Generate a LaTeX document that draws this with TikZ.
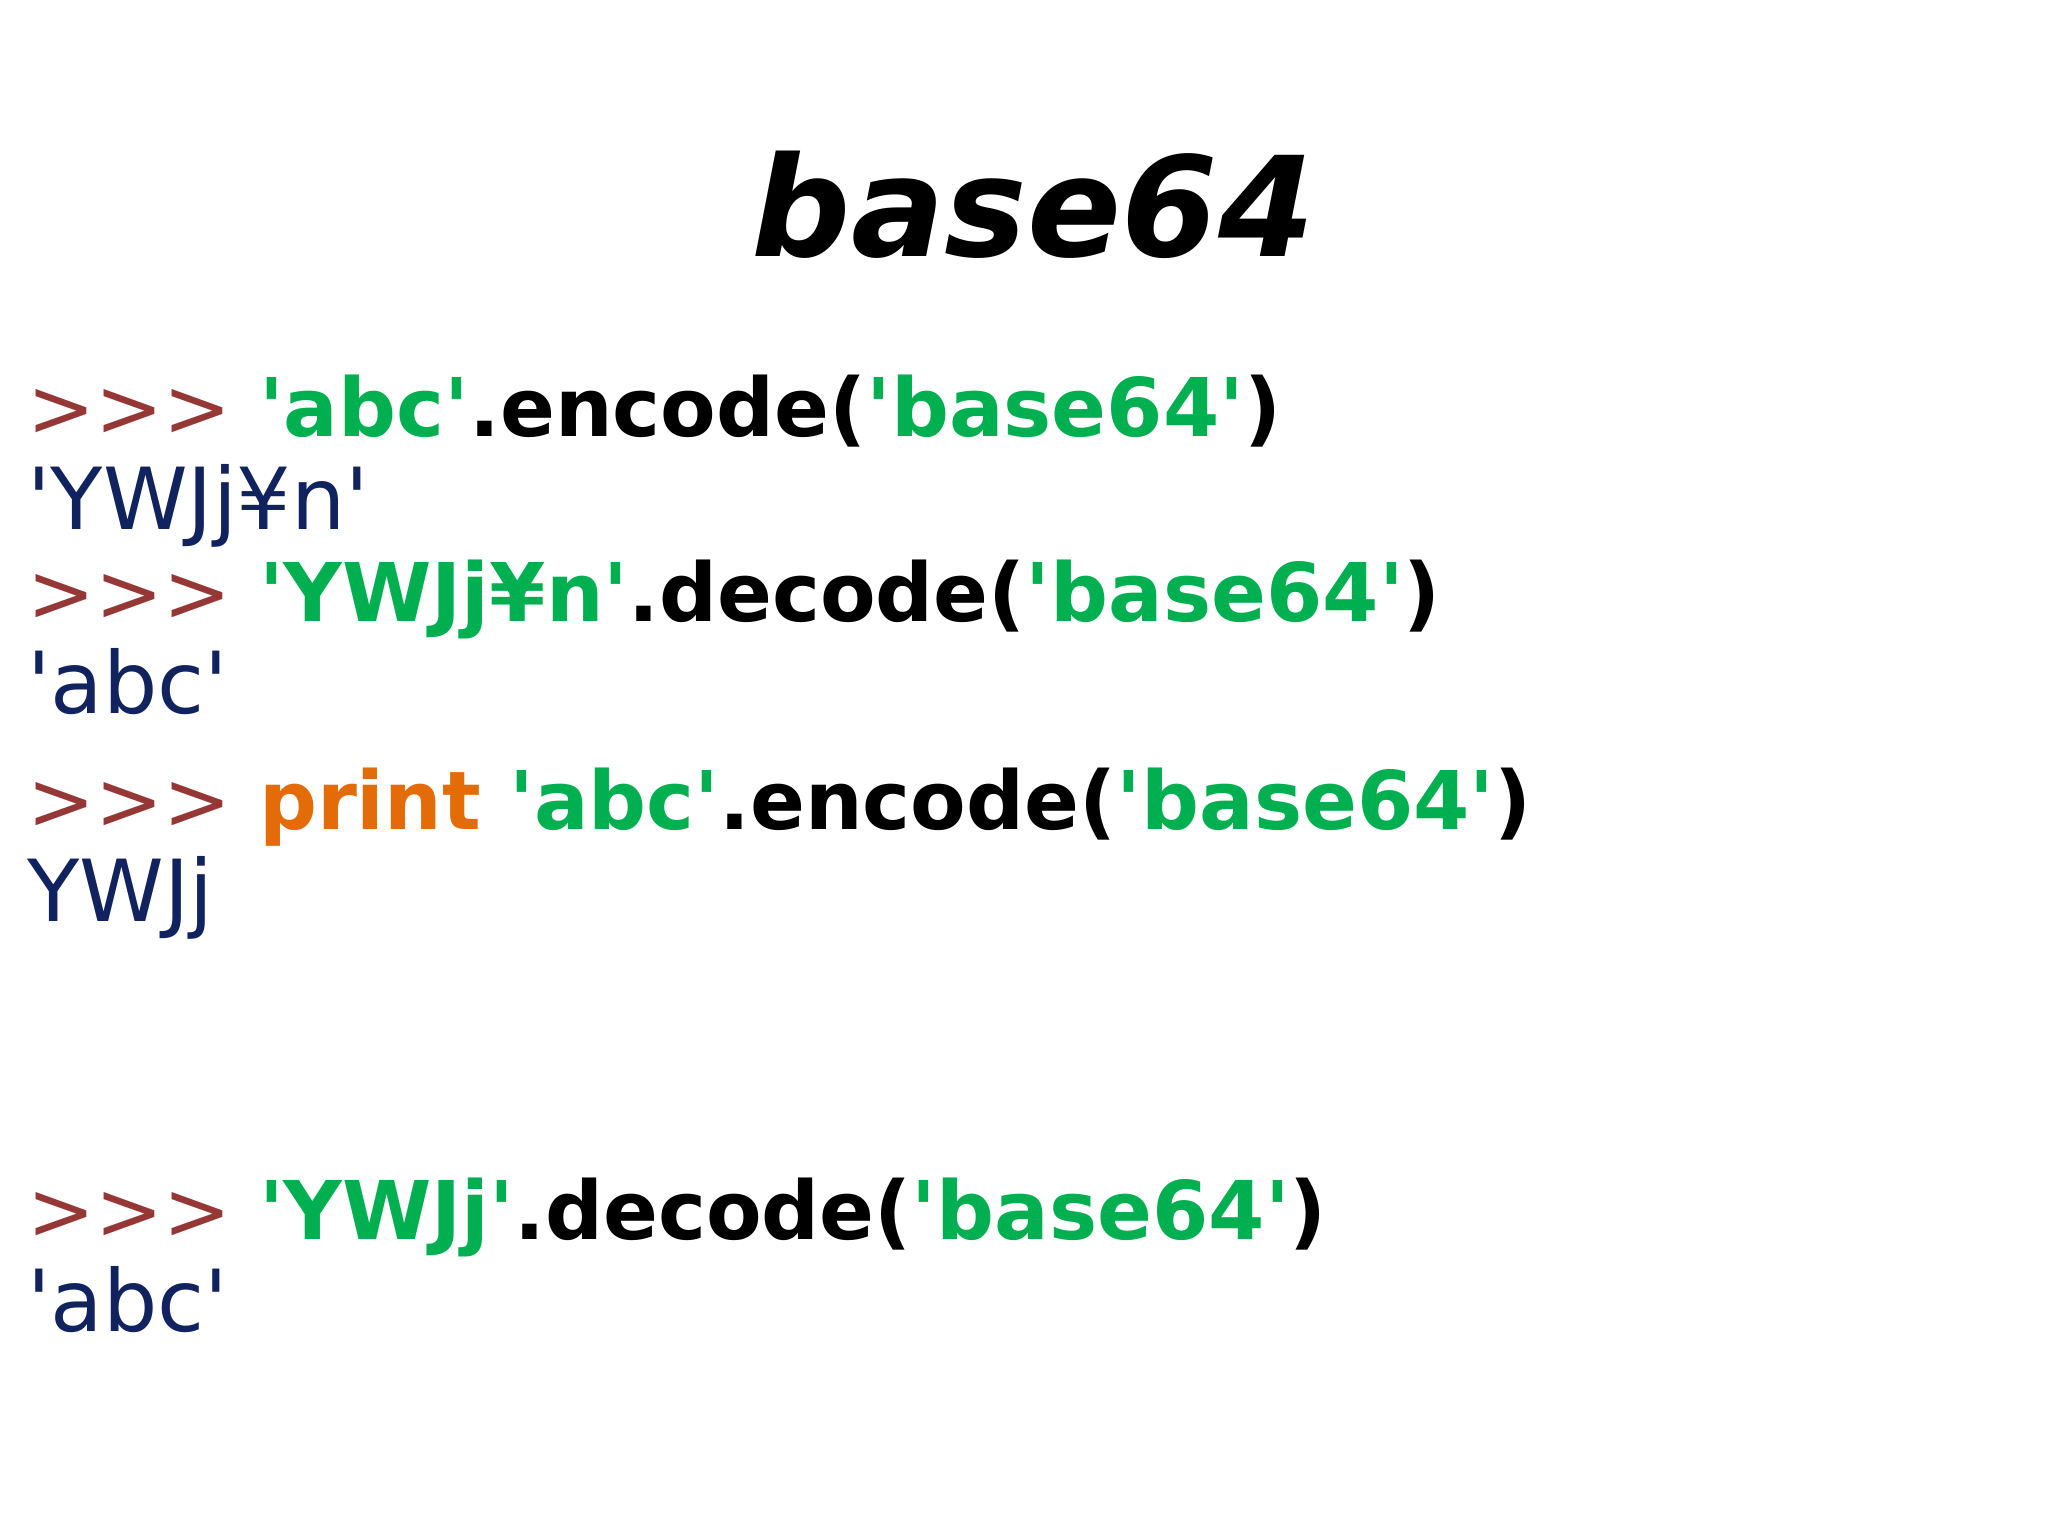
\documentclass[tikz,border=0pt]{standalone}
\usepackage{fontspec}
\setmainfont{DejaVu Sans}
\usetikzlibrary{positioning}
\definecolor{prompt}{HTML}{953735}
\definecolor{strgreen}{HTML}{00B050}
\definecolor{kworange}{HTML}{E36C09}
\definecolor{outblue}{HTML}{10235F}
\tikzset{code/.style={anchor=base west,inner sep=0pt,font=\fontsize{17.5}{17.5}\selectfont\bfseries},
  result/.style={anchor=base west,inner sep=0pt,text=outblue,font=\fontsize{18.5}{18.5}\selectfont}}
\newcommand{\ps}{\textcolor{prompt}{\mdseries>{}>{}>}\ }
\newcommand{\qq}{\textquotesingle}
\newcommand{\gs}[1]{\textcolor{strgreen}{\qq#1\qq}}
\begin{document}
\begin{tikzpicture}[x=0.01cm,y=-0.01cm]
\useasboundingbox[fill=white] (0,0) rectangle (1556,1167);
\node[anchor=base,inner sep=0pt,font=\fontsize{30}{30}\selectfont\bfseries\itshape] (title) at (785,195) {base64};
\node[code] (l1) at (20,332) {\ps\gs{abc}.encode(\gs{base64})};
\node[result] (o1) at (20,402) {\qq YWJj¥n\qq};
\node[code] (l2) at (20,472) {\ps\gs{YWJj¥n}.decode(\gs{base64})};
\node[result] (o2) at (20,542) {\qq abc\qq};
\node[code] (l3) at (20,630) {\ps\textcolor{kworange}{print} \gs{abc}.encode(\gs{base64})};
\node[result] (o3) at (20,700) {YWJj};
\node[code] (l4) at (20,942) {\ps\gs{YWJj}.decode(\gs{base64})};
\node[result] (o4) at (20,1012) {\qq abc\qq};
\end{tikzpicture}
\end{document}
